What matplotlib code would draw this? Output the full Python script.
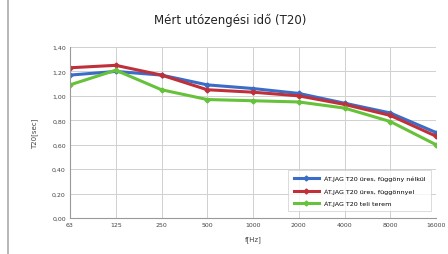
import matplotlib.pyplot as plt

freqs = ["63", "125", "250", "500", "1000", "2000", "4000", "8000", "16000"]
t20_no_curtain = [1.17, 1.20, 1.17, 1.09, 1.06, 1.02, 0.94, 0.86, 0.70]
t20_curtain = [1.23, 1.25, 1.17, 1.05, 1.03, 1.00, 0.93, 0.84, 0.67]
t20_full = [1.09, 1.21, 1.05, 0.97, 0.96, 0.95, 0.90, 0.79, 0.60]

labels = ["ÁT.JAG T20 üres, függöny nélkül",
          "ÁT.JAG T20 üres, függönnyel",
          "ÁT.JAG T20 teli terem"]
colors = ["#3a6cc8", "#c0303a", "#66c23a"]
yticks = [0.0, 0.2, 0.4, 0.6, 0.8, 1.0, 1.2, 1.4]

fig = plt.figure(figsize=(4.48, 2.55), dpi=100)
ax = fig.add_axes([70 / 448, 1 - 219 / 255, 366 / 448, 171 / 255])

x = range(len(freqs))
for ys, lab, c in zip([t20_no_curtain, t20_curtain, t20_full], labels, colors):
    ax.plot(x, ys, color=c, lw=2.2, marker="D", ms=2.5, label=lab)

ax.set_xlim(0, len(freqs) - 1)
ax.set_ylim(0, 1.4)
ax.set_xticks(list(x))
ax.set_xticklabels(freqs, fontsize=4.5, color="#444444")
ax.set_yticks(yticks)
ax.set_yticklabels([f"{v:.2f}".replace(".", ",") for v in yticks],
                   fontsize=4.5, color="#444444")
ax.tick_params(length=0, pad=3)
ax.grid(True, color="#d0d0d0", lw=0.7)
for s in ["top", "right"]:
    ax.spines[s].set_visible(False)
for s in ["left", "bottom"]:
    ax.spines[s].set_color("#999999")
    ax.spines[s].set_linewidth(0.8)

ax.set_xlabel("f[Hz]", fontsize=5, color="#444444", labelpad=6)
ax.set_ylabel("T20[sec]", fontsize=5, color="#444444", labelpad=10)
fig.text(0.513, 0.905, "Mért utózengési idő (T20)", ha="center",
         fontsize=8.5, color="#222222")

leg = ax.legend(loc="lower right", fontsize=4.6, frameon=True,
                fancybox=False, edgecolor="#cccccc", handlelength=4,
                borderpad=0.8, labelspacing=1.0,
                bbox_to_anchor=(0.995, 0.02))
leg.get_frame().set_linewidth(0.6)

fig.add_artist(plt.Line2D([8 / 448, 8 / 448], [0, 1], color="#aaaaaa", lw=1.2))

fig.savefig("out.png", dpi=100)
